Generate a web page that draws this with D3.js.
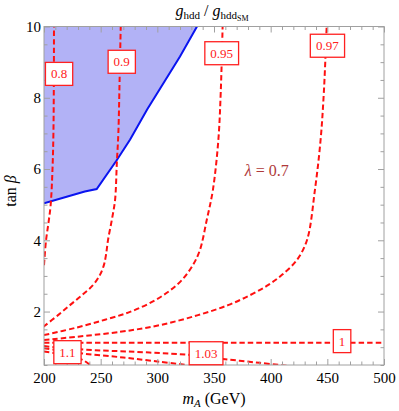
<!DOCTYPE html>
<html>
<head>
<meta charset="utf-8">
<script src="https://cdn.jsdelivr.net/npm/d3@7/dist/d3.min.js"></script>
<style>
 body{margin:0;background:#fff}
 svg{display:block}
 svg text{font-family:"Liberation Serif","Times New Roman","DejaVu Serif",serif}
</style>
</head>
<body>
<div id="chart"></div>
<script>
// tick values
var mAMajor = [200,250,300,350,400,450,500];
var tanbMajor = [2,4,6,8,10];

// contour lines, [mA, tanb]
var c080 = [[200,3.3],[201.8,4.0],[204,4.5],[205.9,5.0],[207.5,6.0],[208.3,7],[208.7,8.5],[208.8,10]];
var c090 = [[199.4,1.57],[212.4,1.90],[222.9,2.18],[233.5,2.46],[243.2,2.74],[249.4,3.03],[252.9,3.31],[254.7,3.59],[256.5,4.01],[260,4.6],[262.7,5.13],[264.3,6.2],[265.6,7],[266.7,8.5],[267.7,10]];
var c095 = [[200,1.34],[227.4,1.54],[253.8,1.77],[275.9,1.99],[295.3,2.27],[309.4,2.55],[321.8,2.89],[331.5,3.31],[337.6,3.73],[343.6,4.57],[349,5.41],[353.8,6.8],[356,8.2],[357.6,10]];
var c097 = [[200,1.2],[267.1,1.43],[302.4,1.62],[335.9,1.90],[362.4,2.18],[381.8,2.46],[397.6,2.74],[410,3.03],[423.2,3.45],[432.1,4.01],[439,5.4],[444,6.8],[447,8.2],[449.4,10]];
var c100 = [[200,1.126],[350,1.126],[500,1.126]];
var c103 = [[200,1.03],[232,0.94],[293,0.85],[329,0.78],[358,0.67],[390,0.56],[417,0.47]];
var c105 = [[200,0.97],[232,0.83],[270,0.71],[302,0.59],[326,0.5]];
var c110 = [[200,0.88],[215,0.8],[228,0.7],[234.4,0.64],[240.6,0.5]];

// where each contour is labelled, [text, mA, tanb]
var contourLabels = [["0.8",213.3,8.67],["0.9",268.6,9.01],["0.95",356.8,9.25],["0.97",450.1,9.46],
                     ["1",463,1.17],["1.03",343,0.83],["1.1",220.7,0.86]];

// edge of the shaded region
var excludedEdge = [[200,5.04],[220,5.22],[236,5.37],[246.5,5.44],[264,6.24],[276,6.83],[291,7.67],[320,9.16],[335,10]];

var width = 399, height = 411;
var x = d3.scaleLinear().domain([200,500]).range([44,384]);
var y = d3.scaleLinear().domain([0.5,10]).range([365,26.5]);

var svg = d3.select("#chart").append("svg")
  .attr("width", width).attr("height", height);

var defs = svg.append("defs");
defs.append("clipPath").attr("id","plotclip").append("rect")
  .attr("x",x(200)).attr("y",y(10)).attr("width",x(500)-x(200)).attr("height",y(0.5)-y(10));

var plot = svg.append("g").attr("clip-path","url(#plotclip)");

// shaded region
var region = [[200,10]].concat(excludedEdge);
var lin = d3.line().x(function(d){return x(d[0]);}).y(function(d){return y(d[1]);});
plot.append("path")
  .attr("d", lin(region) + "Z")
  .attr("fill","#b2b2f6").attr("stroke","none");
plot.append("path")
  .attr("d", lin(excludedEdge))
  .attr("fill","none").attr("stroke","#0a14f0").attr("stroke-width",2);

// contours
var contours = [c080,c090,c095,c097,c100,c103,c105,c110];
var cline = d3.line()
  .x(function(d){return x(d[0]);})
  .y(function(d){return y(d[1]);})
  .curve(d3.curveCatmullRom.alpha(0.5));
plot.selectAll("path.contour").data(contours).enter().append("path")
  .attr("class","contour")
  .attr("d", cline)
  .attr("fill","none")
  .attr("stroke","#ff1010")
  .attr("stroke-width",2)
  .attr("stroke-dasharray","5.5,3");

// frame + ticks
function styleAxis(g){
  g.attr("font-family",null);
  g.select(".domain").remove();
  g.selectAll(".tick line").attr("stroke","#a0a0a0").attr("stroke-width",1);
  g.selectAll(".tick text").attr("font-size","15px").attr("fill","#000");
}
var mAMinor = d3.range(200,501,10).filter(function(v){return mAMajor.indexOf(v)<0;});
var tanbMinor = d3.range(0.5,10.01,0.5).filter(function(v){return tanbMajor.indexOf(v)<0;});

svg.append("g").attr("transform","translate(0,"+y(0.5)+")")
  .call(d3.axisBottom(x).tickValues(mAMajor).tickSize(-6).tickPadding(7).tickFormat(d3.format("d"))).call(styleAxis);
svg.append("g").attr("transform","translate(0,"+y(0.5)+")")
  .call(d3.axisBottom(x).tickValues(mAMinor).tickSize(-3.5).tickFormat("")).call(styleAxis);
svg.append("g").attr("transform","translate(0,"+y(10)+")")
  .call(d3.axisTop(x).tickValues(mAMajor).tickSize(-6).tickFormat("")).call(styleAxis);
svg.append("g").attr("transform","translate(0,"+y(10)+")")
  .call(d3.axisTop(x).tickValues(mAMinor).tickSize(-3.5).tickFormat("")).call(styleAxis);
svg.append("g").attr("transform","translate("+x(200)+",0)")
  .call(d3.axisLeft(y).tickValues(tanbMajor).tickSize(-6).tickPadding(3).tickFormat(d3.format("d"))).call(styleAxis);
svg.append("g").attr("transform","translate("+x(200)+",0)")
  .call(d3.axisLeft(y).tickValues(tanbMinor).tickSize(-3.5).tickFormat("")).call(styleAxis);
svg.append("g").attr("transform","translate("+x(500)+",0)")
  .call(d3.axisRight(y).tickValues(tanbMajor).tickSize(-6).tickFormat("")).call(styleAxis);
svg.append("g").attr("transform","translate("+x(500)+",0)")
  .call(d3.axisRight(y).tickValues(tanbMinor).tickSize(-3.5).tickFormat("")).call(styleAxis);

svg.append("rect")
  .attr("x",x(200)).attr("y",y(10)).attr("width",x(500)-x(200)).attr("height",y(0.5)-y(10))
  .attr("fill","none").attr("stroke","#a0a0a0").attr("stroke-width",1);

// contour labels
var lab = svg.append("g").selectAll("g").data(contourLabels).enter().append("g")
  .attr("transform",function(d){return "translate("+x(d[1])+","+y(d[2])+")";});
lab.append("text")
  .attr("text-anchor","middle").attr("dy","0.35em")
  .attr("font-size","13px").attr("fill","#ff2020")
  .text(function(d){return d[0];})
  .each(function(){
    var b = this.getBBox();
    d3.select(this.parentNode).insert("rect","text")
      .attr("x",-b.width/2-5.5).attr("y",-11.5)
      .attr("width",b.width+11).attr("height",23)
      .attr("fill","#fff").attr("stroke","#ff2020").attr("stroke-width",1.3);
  });

// annotation
var ann = svg.append("text").attr("x",x(396.5)).attr("y",176)
  .attr("text-anchor","middle").attr("font-size","16px").attr("fill","#b03a3a");
ann.append("tspan").attr("font-style","italic").text("λ");
ann.append("tspan").text(" = 0.7");

// title
var t = svg.append("text").attr("x",212).attr("y",16).attr("text-anchor","middle")
  .attr("font-size","16px").attr("fill","#000");
t.append("tspan").attr("font-style","italic").text("g");
t.append("tspan").attr("font-size","11px").attr("dy",3).text("hdd");
t.append("tspan").attr("dy",-3).text(" / ");
t.append("tspan").attr("font-style","italic").text("g");
t.append("tspan").attr("font-size","11px").attr("dy",3).text("hdd");
t.append("tspan").attr("font-size","8px").attr("dy",2).text("SM");

// axis titles
var xt = svg.append("text").attr("x",214).attr("y",404).attr("text-anchor","middle")
  .attr("font-size","16px").attr("fill","#000");
xt.append("tspan").attr("font-style","italic").text("m");
xt.append("tspan").attr("font-style","italic").attr("font-size","11px").attr("dy",3).text("A");
xt.append("tspan").attr("dy",-3).text(" (GeV)");

var yt = svg.append("text").attr("transform","translate(16,191) rotate(-90)")
  .attr("text-anchor","middle").attr("font-size","16px").attr("fill","#000");
yt.append("tspan").text("tan ");
yt.append("tspan").attr("font-style","italic").text("β");
</script>
</body>
</html>
